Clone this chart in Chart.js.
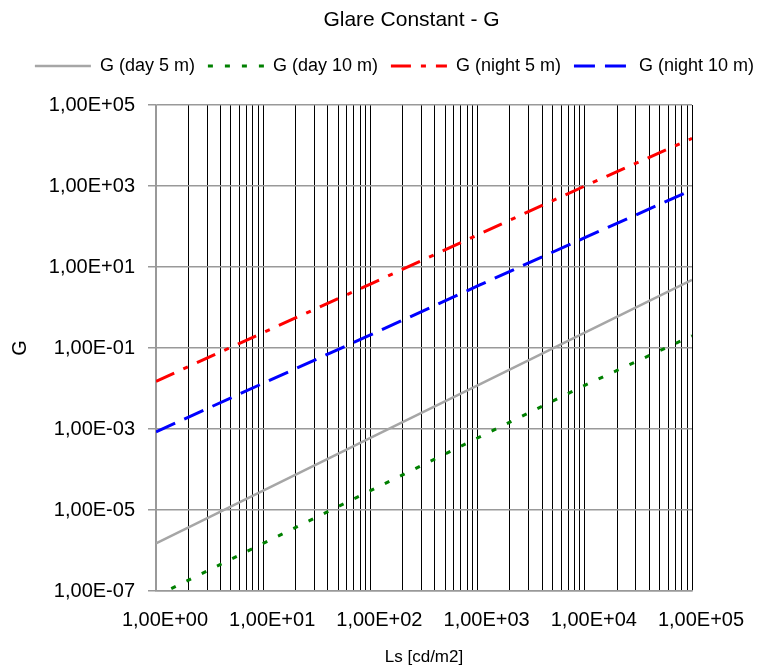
<!DOCTYPE html>
<html>
<head>
<meta charset="utf-8">
<title>Glare Constant - G</title>
<script src="https://cdn.jsdelivr.net/npm/chart.js@4.4.1/dist/chart.umd.min.js"></script>
<style>
    html, body { margin: 0; padding: 0; background: #ffffff; }
    #chartWrap { width: 767px; height: 669px; }
</style>
</head>
<body>
<div id="chartWrap"><canvas id="glareChart" width="767" height="669"></canvas></div>
<script>
// Data (log-log)
const lsValues = [1, 10, 100, 1000, 10000, 100000];
const gDay5 = [1.5e-6, 3.0e-5, 6.0e-4, 1.2e-2, 0.24, 4.8];
const gDay10 = [7.5e-8, 1.5e-6, 3.0e-5, 6.0e-4, 1.2e-2, 0.2];
const gNight5 = [1.5e-2, 0.24, 3.8, 62, 1.0e3, 1.5e4];
const gNight10 = [8.5e-4, 1.35e-2, 0.21, 3.4, 53, 8.0e2];

// Axis ticks
const xDecades = [1, 10, 100, 1000, 10000];
const xMantissas = [1, 2, 3, 4, 5, 6, 7, 8, 9];
const xLastTick = 100000;
const yTickValues = [1e-7, 1e-5, 1e-3, 1e-1, 1e1, 1e3, 1e5];

document.addEventListener('DOMContentLoaded', () => {
    Chart.defaults.color = '#000000';
    Chart.defaults.font.family = "'Liberation Sans', Arial, Helvetica, sans-serif";

    const gridGray = '#999999';

    // "1,00E+05" style labels
    function sciLabel(v) {
        const exp = Math.round(Math.log10(v));
        const sign = exp < 0 ? '-' : '+';
        return '1,00E' + sign + String(Math.abs(exp)).padStart(2, '0');
    }

    function isDecade(v) {
        return Math.abs(Math.log10(v) - Math.round(Math.log10(v))) < 1e-9;
    }

    const xTickValues = [];
    xDecades.forEach(d => xMantissas.forEach(m => xTickValues.push(d * m)));
    xTickValues.push(xLastTick);

    const toPoints = arr => lsValues.map((x, i) => ({ x: x, y: arr[i] }));

    // the reference title sits a bit right of the canvas centre
    const titleShift = {
        id: 'titleShift',
        afterLayout: chart => { if (chart.titleBlock) chart.titleBlock.left = 56; }
    };

    new Chart(document.getElementById('glareChart').getContext('2d'), {
        type: 'line',
        data: {
            datasets: [
                {
                    label: 'G (day 5 m)',
                    data: toPoints(gDay5),
                    borderColor: '#a6a6a6',
                    backgroundColor: '#a6a6a6',
                    borderWidth: 2.5
                },
                {
                    label: 'G (day 10 m)',
                    data: toPoints(gDay10),
                    borderColor: '#008000',
                    backgroundColor: '#008000',
                    borderWidth: 3,
                    borderDash: [5, 12]
                },
                {
                    label: 'G (night 5 m)',
                    data: toPoints(gNight5),
                    borderColor: '#ff0000',
                    backgroundColor: '#ff0000',
                    borderWidth: 3,
                    borderDash: [20, 10, 5, 10]
                },
                {
                    label: 'G (night 10 m)',
                    data: toPoints(gNight10),
                    borderColor: '#0000ff',
                    backgroundColor: '#0000ff',
                    borderWidth: 3,
                    borderDash: [21, 10]
                }
            ]
        },
        plugins: [titleShift],
        options: {
            responsive: false,
            animation: false,
            parsing: false,
            elements: { point: { radius: 0 }, line: { tension: 0, fill: false } },
            layout: { padding: 0 },
            plugins: {
                title: {
                    display: true,
                    text: 'Glare Constant - G',
                    font: { size: 21, weight: 'normal' },
                    padding: { top: 7.5, bottom: 11.3 }
                },
                legend: {
                    display: true,
                    align: 'end',
                    labels: {
                        usePointStyle: true,
                        pointStyle: 'line',
                        pointStyleWidth: 56,
                        padding: 13,
                        font: { size: 18 },
                        // keep the dash pattern of each line in its legend sample
                        generateLabels: chart => {
                            const items = Chart.defaults.plugins.legend.labels.generateLabels(chart);
                            items.forEach(item => {
                                const ds = chart.data.datasets[item.datasetIndex];
                                item.lineDash = ds.borderDash || [];
                                item.lineWidth = ds.borderWidth;
                                item.strokeStyle = ds.borderColor;
                            });
                            return items;
                        }
                    }
                },
                // empty spacer between the legend and the plot
                subtitle: {
                    display: true,
                    text: '',
                    weight: 500,
                    font: { size: 10 },
                    padding: { top: 8, bottom: 0 }
                },
                tooltip: { enabled: false }
            },
            scales: {
                x: {
                    type: 'logarithmic',
                    min: 1,
                    max: 100000,
                    afterBuildTicks: scale => { scale.ticks = xTickValues.map(v => ({ value: v })); },
                    afterFit: scale => { scale.height = 78; scale.paddingRight = 75; },
                    ticks: {
                        autoSkip: false,
                        minRotation: 0,
                        maxRotation: 0,
                        padding: 17,
                        labelOffset: 9,
                        font: { size: 20 },
                        callback: v => isDecade(v) ? sciLabel(v) : ''
                    },
                    grid: {
                        drawTicks: false,
                        color: ctx => (ctx.tick && ctx.tick.value === 1) ? gridGray : '#000000',
                        lineWidth: 1
                    },
                    border: { color: gridGray, width: 1.5 },
                    title: {
                        display: true,
                        text: 'Ls [cd/m2]',
                        font: { size: 17 },
                        padding: { top: 0, bottom: 1 }
                    }
                },
                y: {
                    type: 'logarithmic',
                    min: 1e-7,
                    max: 1e5,
                    afterBuildTicks: scale => { scale.ticks = yTickValues.map(v => ({ value: v })); },
                    afterFit: scale => { scale.width = 156; scale.paddingTop = 105; },
                    ticks: {
                        padding: 13,
                        font: { size: 20 },
                        callback: v => sciLabel(v)
                    },
                    grid: {
                        color: gridGray,
                        lineWidth: 1.5,
                        tickLength: 8
                    },
                    border: { color: gridGray, width: 1.5 },
                    title: {
                        display: true,
                        text: 'G',
                        font: { size: 20 },
                        padding: { top: 8, bottom: 0 }
                    }
                }
            }
        }
    });
});
</script>
</body>
</html>
